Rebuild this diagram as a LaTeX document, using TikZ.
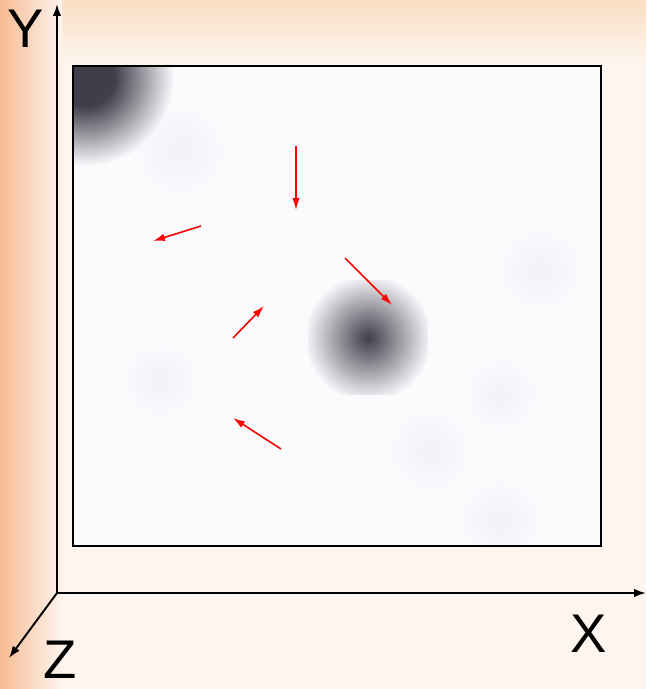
\documentclass[tikz,border=0pt]{standalone}
\usepackage{fontspec}
\setmainfont{Liberation Sans}
\usetikzlibrary{arrows.meta}
\definecolor{cream}{HTML}{FDF5EE}
\definecolor{peach}{HTML}{FBDEC2}
\definecolor{salmon}{HTML}{F8BC94}
\definecolor{blob}{HTML}{403E4A}
\definecolor{lilac}{HTML}{FBFBFE}
\definecolor{haze}{HTML}{F1F1F6}
\pgfdeclareradialshading{plateau}{\pgfpoint{0bp}{0bp}}{color(0bp)=(blob); color(8bp)=(blob); color(25bp)=(lilac); color(50bp)=(lilac)}
\tikzset{
  axis/.style={line width=1.1pt,-{Latex[length=0.24cm,width=0.17cm]}},
  flow/.style={red,line width=0.9pt,-{Latex[length=0.24cm,width=0.15cm]}},
  axlabel/.style={font=\fontsize{31}{31}\selectfont,inner sep=0pt}
}
\begin{document}
\begin{tikzpicture}[x=0.02cm,y=-0.02cm]
     \useasboundingbox (0,0) rectangle (646,689);
     % Nền
     \fill[cream] (0,0) rectangle (646,689);
     \shade[top color=peach,bottom color=cream] (0,0) rectangle (646,60);
     \shade[left color=salmon,right color=cream] (0,0) rectangle (62,689);
     % Khung ảnh
     \fill[lilac] (73,66) rectangle (601,546);
     \begin{scope}
     \clip (73,66) rectangle (601,546);
     % Các vết mờ nhạt
     \foreach \cx/\cy/\r in {540/270/45,500/395/40,430/450/45,500/520/45,180/150/50,160/380/40}
       \shade[inner color=haze,outer color=lilac] (\cx,\cy) circle (\r);
     % Vết đậm góc trên trái
     \shade[shading=plateau] (86,78) circle (88);
     % Vết đậm ở giữa
     \clip (308,280) rectangle (428,394);
     \shade[inner color=blob,outer color=lilac] (368,338) circle (64);
     \end{scope}
     \draw[line width=1.1pt] (73,66) rectangle (601,546);
     % Trục toạ độ
     \coordinate (O) at (57,593);
     \coordinate (Xend) at (646,593);
     \coordinate (Yend) at (57,4);
     \coordinate (Zend) at (9,658);
     \draw[axis] (O) -- (Xend);
     \draw[axis] (O) -- (Yend);
     \draw[axis] (O) -- (Zend);
     \node[axlabel] (xlab) at (589,634) {X};
     \node[axlabel] (ylab) at (26,29) {Y};
     \node[axlabel] (zlab) at (60,660) {Z};
     % Các mũi tên đỏ
     \coordinate (a1) at (296,146); \coordinate (b1) at (296,210);
     \coordinate (a2) at (201,226); \coordinate (b2) at (153,241);
     \coordinate (a3) at (345,258); \coordinate (b3) at (392,305);
     \coordinate (a4) at (233,338); \coordinate (b4) at (264,306);
     \coordinate (a5) at (281,449); \coordinate (b5) at (233,418);
     \foreach \i in {1,...,5}
       \draw[flow] (a\i) -- (b\i);
\end{tikzpicture}
\end{document}
